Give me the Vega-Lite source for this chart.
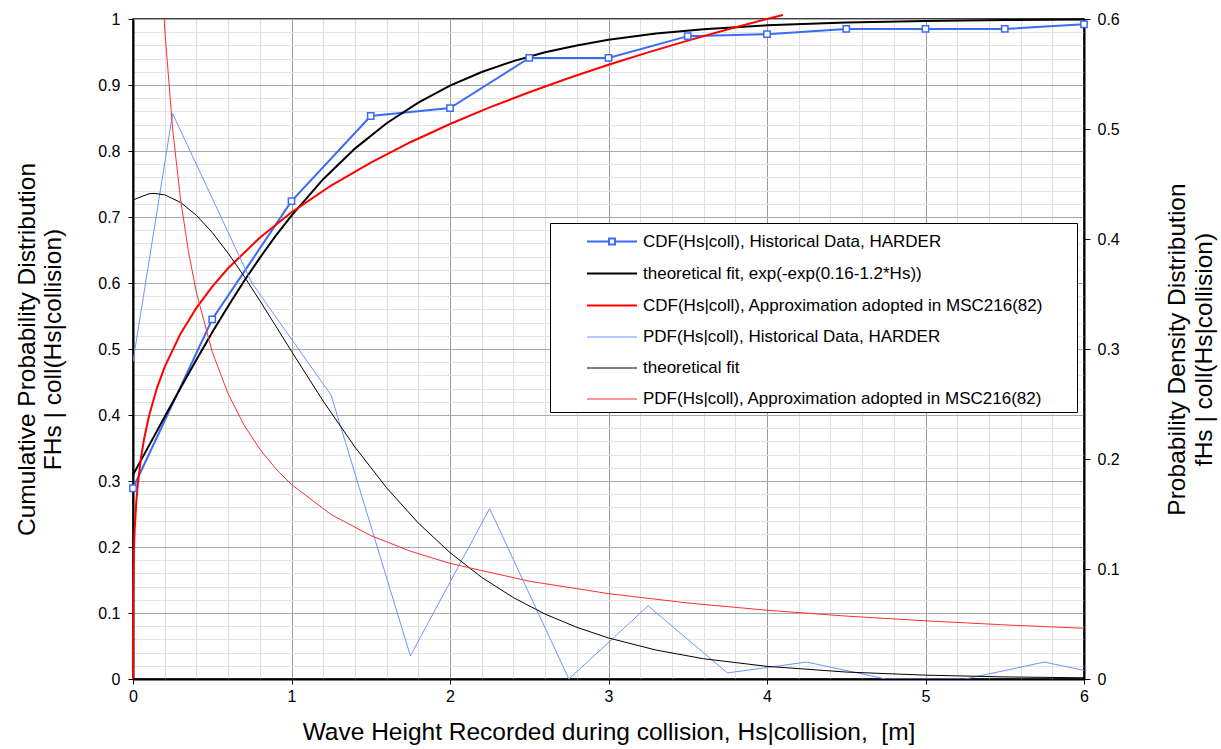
{
  "$schema": "https://vega.github.io/schema/vega-lite/v6.json",
  "width": 951,
  "height": 660,
  "autosize": {"type": "none"},
  "padding": {"left": 133, "top": 19, "right": 137, "bottom": 70},
  "background": "white",
  "config": {
    "font": "Liberation Sans",
    "view": {"stroke": "#000", "strokeWidth": 1.5},
    "axis": {
      "labelFont": "Liberation Sans",
      "titleFont": "Liberation Sans",
      "labelFontSize": 16,
      "titleFontSize": 24.5,
      "titleFontWeight": "normal",
      "labelColor": "#000",
      "titleColor": "#000",
      "domainColor": "#000",
      "tickColor": "#000",
      "labelFlush": false,
      "labelOverlap": false
    },
    "legend": {
      "labelFont": "Liberation Sans",
      "orient": "none",
      "padding": 5,
      "strokeColor": "#000",
      "fillColor": "#ffffff",
      "cornerRadius": 0,
      "labelFontSize": 17,
      "labelColor": "#000",
      "labelLimit": 800,
      "labelOffset": 17.5,
      "symbolSize": 625,
      "symbolOffset": 43.5,
      "rowPadding": 10
    }
  },
  "datasets": {
    "cdf": [
      {"s": "CDF(Hs|coll), Historical Data, HARDER", "x": 0, "v": 0.289},
      {"s": "CDF(Hs|coll), Historical Data, HARDER", "x": 0.5, "v": 0.545},
      {"s": "CDF(Hs|coll), Historical Data, HARDER", "x": 1, "v": 0.724},
      {"s": "CDF(Hs|coll), Historical Data, HARDER", "x": 1.5, "v": 0.853},
      {"s": "CDF(Hs|coll), Historical Data, HARDER", "x": 2, "v": 0.865},
      {"s": "CDF(Hs|coll), Historical Data, HARDER", "x": 2.5, "v": 0.941},
      {"s": "CDF(Hs|coll), Historical Data, HARDER", "x": 3, "v": 0.941},
      {"s": "CDF(Hs|coll), Historical Data, HARDER", "x": 3.5, "v": 0.974},
      {"s": "CDF(Hs|coll), Historical Data, HARDER", "x": 4, "v": 0.977},
      {"s": "CDF(Hs|coll), Historical Data, HARDER", "x": 4.5, "v": 0.985},
      {"s": "CDF(Hs|coll), Historical Data, HARDER", "x": 5, "v": 0.985},
      {"s": "CDF(Hs|coll), Historical Data, HARDER", "x": 5.5, "v": 0.985},
      {"s": "CDF(Hs|coll), Historical Data, HARDER", "x": 6, "v": 0.992},
      {"s": "theoretical fit, exp(-exp(0.16-1.2*Hs))", "x": 0, "v": 0.3093},
      {"s": "theoretical fit, exp(-exp(0.16-1.2*Hs))", "x": 0.1, "v": 0.3532},
      {"s": "theoretical fit, exp(-exp(0.16-1.2*Hs))", "x": 0.2, "v": 0.3973},
      {"s": "theoretical fit, exp(-exp(0.16-1.2*Hs))", "x": 0.3, "v": 0.441},
      {"s": "theoretical fit, exp(-exp(0.16-1.2*Hs))", "x": 0.4, "v": 0.4838},
      {"s": "theoretical fit, exp(-exp(0.16-1.2*Hs))", "x": 0.5, "v": 0.5252},
      {"s": "theoretical fit, exp(-exp(0.16-1.2*Hs))", "x": 0.6, "v": 0.5648},
      {"s": "theoretical fit, exp(-exp(0.16-1.2*Hs))", "x": 0.7, "v": 0.6026},
      {"s": "theoretical fit, exp(-exp(0.16-1.2*Hs))", "x": 0.8, "v": 0.6381},
      {"s": "theoretical fit, exp(-exp(0.16-1.2*Hs))", "x": 0.9, "v": 0.6713},
      {"s": "theoretical fit, exp(-exp(0.16-1.2*Hs))", "x": 1.0, "v": 0.7022},
      {"s": "theoretical fit, exp(-exp(0.16-1.2*Hs))", "x": 1.2, "v": 0.7573},
      {"s": "theoretical fit, exp(-exp(0.16-1.2*Hs))", "x": 1.4, "v": 0.8036},
      {"s": "theoretical fit, exp(-exp(0.16-1.2*Hs))", "x": 1.6, "v": 0.842},
      {"s": "theoretical fit, exp(-exp(0.16-1.2*Hs))", "x": 1.8, "v": 0.8734},
      {"s": "theoretical fit, exp(-exp(0.16-1.2*Hs))", "x": 2.0, "v": 0.899},
      {"s": "theoretical fit, exp(-exp(0.16-1.2*Hs))", "x": 2.2, "v": 0.9197},
      {"s": "theoretical fit, exp(-exp(0.16-1.2*Hs))", "x": 2.4, "v": 0.9362},
      {"s": "theoretical fit, exp(-exp(0.16-1.2*Hs))", "x": 2.6, "v": 0.9495},
      {"s": "theoretical fit, exp(-exp(0.16-1.2*Hs))", "x": 2.8, "v": 0.96},
      {"s": "theoretical fit, exp(-exp(0.16-1.2*Hs))", "x": 3.0, "v": 0.9684},
      {"s": "theoretical fit, exp(-exp(0.16-1.2*Hs))", "x": 3.3, "v": 0.9779},
      {"s": "theoretical fit, exp(-exp(0.16-1.2*Hs))", "x": 3.6, "v": 0.9845},
      {"s": "theoretical fit, exp(-exp(0.16-1.2*Hs))", "x": 4.0, "v": 0.9904},
      {"s": "theoretical fit, exp(-exp(0.16-1.2*Hs))", "x": 4.5, "v": 0.9947},
      {"s": "theoretical fit, exp(-exp(0.16-1.2*Hs))", "x": 5.0, "v": 0.9971},
      {"s": "theoretical fit, exp(-exp(0.16-1.2*Hs))", "x": 5.5, "v": 0.9984},
      {"s": "theoretical fit, exp(-exp(0.16-1.2*Hs))", "x": 6.0, "v": 0.9991},
      {"s": "CDF(Hs|coll), Approximation adopted in MSC216(82)", "x": 0, "v": 0},
      {"s": "CDF(Hs|coll), Approximation adopted in MSC216(82)", "x": 0.001, "v": 0.1257},
      {"s": "CDF(Hs|coll), Approximation adopted in MSC216(82)", "x": 0.005, "v": 0.188},
      {"s": "CDF(Hs|coll), Approximation adopted in MSC216(82)", "x": 0.01, "v": 0.2236},
      {"s": "CDF(Hs|coll), Approximation adopted in MSC216(82)", "x": 0.02, "v": 0.2659},
      {"s": "CDF(Hs|coll), Approximation adopted in MSC216(82)", "x": 0.03, "v": 0.2943},
      {"s": "CDF(Hs|coll), Approximation adopted in MSC216(82)", "x": 0.05, "v": 0.3344},
      {"s": "CDF(Hs|coll), Approximation adopted in MSC216(82)", "x": 0.07, "v": 0.3637},
      {"s": "CDF(Hs|coll), Approximation adopted in MSC216(82)", "x": 0.1, "v": 0.3976},
      {"s": "CDF(Hs|coll), Approximation adopted in MSC216(82)", "x": 0.15, "v": 0.4401},
      {"s": "CDF(Hs|coll), Approximation adopted in MSC216(82)", "x": 0.2, "v": 0.4729},
      {"s": "CDF(Hs|coll), Approximation adopted in MSC216(82)", "x": 0.3, "v": 0.5233},
      {"s": "CDF(Hs|coll), Approximation adopted in MSC216(82)", "x": 0.4, "v": 0.5623},
      {"s": "CDF(Hs|coll), Approximation adopted in MSC216(82)", "x": 0.5, "v": 0.5946},
      {"s": "CDF(Hs|coll), Approximation adopted in MSC216(82)", "x": 0.6, "v": 0.6223},
      {"s": "CDF(Hs|coll), Approximation adopted in MSC216(82)", "x": 0.8, "v": 0.6687},
      {"s": "CDF(Hs|coll), Approximation adopted in MSC216(82)", "x": 1.0, "v": 0.7071},
      {"s": "CDF(Hs|coll), Approximation adopted in MSC216(82)", "x": 1.25, "v": 0.7477},
      {"s": "CDF(Hs|coll), Approximation adopted in MSC216(82)", "x": 1.5, "v": 0.7825},
      {"s": "CDF(Hs|coll), Approximation adopted in MSC216(82)", "x": 1.75, "v": 0.8133},
      {"s": "CDF(Hs|coll), Approximation adopted in MSC216(82)", "x": 2.0, "v": 0.8409},
      {"s": "CDF(Hs|coll), Approximation adopted in MSC216(82)", "x": 2.25, "v": 0.866},
      {"s": "CDF(Hs|coll), Approximation adopted in MSC216(82)", "x": 2.5, "v": 0.8891},
      {"s": "CDF(Hs|coll), Approximation adopted in MSC216(82)", "x": 2.75, "v": 0.9106},
      {"s": "CDF(Hs|coll), Approximation adopted in MSC216(82)", "x": 3.0, "v": 0.9306},
      {"s": "CDF(Hs|coll), Approximation adopted in MSC216(82)", "x": 3.25, "v": 0.9494},
      {"s": "CDF(Hs|coll), Approximation adopted in MSC216(82)", "x": 3.5, "v": 0.9672},
      {"s": "CDF(Hs|coll), Approximation adopted in MSC216(82)", "x": 3.75, "v": 0.984},
      {"s": "CDF(Hs|coll), Approximation adopted in MSC216(82)", "x": 4.0, "v": 1.0},
      {"s": "CDF(Hs|coll), Approximation adopted in MSC216(82)", "x": 4.1, "v": 1.0062}
    ],
    "pdf": [
      {"s": "PDF(Hs|coll), Historical Data, HARDER", "x": 0, "v": 0.2885},
      {"s": "PDF(Hs|coll), Historical Data, HARDER", "x": 0.25, "v": 0.514},
      {"s": "PDF(Hs|coll), Historical Data, HARDER", "x": 0.75, "v": 0.36},
      {"s": "PDF(Hs|coll), Historical Data, HARDER", "x": 1.25, "v": 0.258},
      {"s": "PDF(Hs|coll), Historical Data, HARDER", "x": 1.75, "v": 0.021},
      {"s": "PDF(Hs|coll), Historical Data, HARDER", "x": 2.25, "v": 0.155},
      {"s": "PDF(Hs|coll), Historical Data, HARDER", "x": 2.75, "v": 0},
      {"s": "PDF(Hs|coll), Historical Data, HARDER", "x": 3.25, "v": 0.0665},
      {"s": "PDF(Hs|coll), Historical Data, HARDER", "x": 3.75, "v": 0.0055},
      {"s": "PDF(Hs|coll), Historical Data, HARDER", "x": 4.25, "v": 0.0154},
      {"s": "PDF(Hs|coll), Historical Data, HARDER", "x": 4.75, "v": 0},
      {"s": "PDF(Hs|coll), Historical Data, HARDER", "x": 5.25, "v": 0},
      {"s": "PDF(Hs|coll), Historical Data, HARDER", "x": 5.75, "v": 0.0154},
      {"s": "PDF(Hs|coll), Historical Data, HARDER", "x": 6, "v": 0.0078},
      {"s": "theoretical fit", "x": 0, "v": 0.4355},
      {"s": "theoretical fit", "x": 0.1, "v": 0.4411},
      {"s": "theoretical fit", "x": 0.133, "v": 0.4415},
      {"s": "theoretical fit", "x": 0.2, "v": 0.4401},
      {"s": "theoretical fit", "x": 0.3, "v": 0.4333},
      {"s": "theoretical fit", "x": 0.4, "v": 0.4215},
      {"s": "theoretical fit", "x": 0.5, "v": 0.4059},
      {"s": "theoretical fit", "x": 0.6, "v": 0.3871},
      {"s": "theoretical fit", "x": 0.7, "v": 0.3663},
      {"s": "theoretical fit", "x": 0.8, "v": 0.344},
      {"s": "theoretical fit", "x": 0.9, "v": 0.321},
      {"s": "theoretical fit", "x": 1.0, "v": 0.2979},
      {"s": "theoretical fit", "x": 1.2, "v": 0.2526},
      {"s": "theoretical fit", "x": 1.4, "v": 0.2109},
      {"s": "theoretical fit", "x": 1.6, "v": 0.1738},
      {"s": "theoretical fit", "x": 1.8, "v": 0.1418},
      {"s": "theoretical fit", "x": 2.0, "v": 0.1149},
      {"s": "theoretical fit", "x": 2.2, "v": 0.0924},
      {"s": "theoretical fit", "x": 2.4, "v": 0.074},
      {"s": "theoretical fit", "x": 2.6, "v": 0.059},
      {"s": "theoretical fit", "x": 2.8, "v": 0.047},
      {"s": "theoretical fit", "x": 3.0, "v": 0.0373},
      {"s": "theoretical fit", "x": 3.3, "v": 0.0263},
      {"s": "theoretical fit", "x": 3.6, "v": 0.0184},
      {"s": "theoretical fit", "x": 4.0, "v": 0.0115},
      {"s": "theoretical fit", "x": 4.5, "v": 0.0063},
      {"s": "theoretical fit", "x": 5.0, "v": 0.0035},
      {"s": "theoretical fit", "x": 5.5, "v": 0.0019},
      {"s": "theoretical fit", "x": 6.0, "v": 0.0011},
      {"s": "PDF(Hs|coll), Approximation adopted in MSC216(82)", "x": 0.05, "v": 1.672},
      {"s": "PDF(Hs|coll), Approximation adopted in MSC216(82)", "x": 0.1, "v": 0.994},
      {"s": "PDF(Hs|coll), Approximation adopted in MSC216(82)", "x": 0.12, "v": 0.867},
      {"s": "PDF(Hs|coll), Approximation adopted in MSC216(82)", "x": 0.15, "v": 0.733},
      {"s": "PDF(Hs|coll), Approximation adopted in MSC216(82)", "x": 0.2, "v": 0.591},
      {"s": "PDF(Hs|coll), Approximation adopted in MSC216(82)", "x": 0.25, "v": 0.5},
      {"s": "PDF(Hs|coll), Approximation adopted in MSC216(82)", "x": 0.3, "v": 0.4361},
      {"s": "PDF(Hs|coll), Approximation adopted in MSC216(82)", "x": 0.35, "v": 0.3885},
      {"s": "PDF(Hs|coll), Approximation adopted in MSC216(82)", "x": 0.4, "v": 0.3514},
      {"s": "PDF(Hs|coll), Approximation adopted in MSC216(82)", "x": 0.5, "v": 0.2973},
      {"s": "PDF(Hs|coll), Approximation adopted in MSC216(82)", "x": 0.6, "v": 0.2593},
      {"s": "PDF(Hs|coll), Approximation adopted in MSC216(82)", "x": 0.7, "v": 0.231},
      {"s": "PDF(Hs|coll), Approximation adopted in MSC216(82)", "x": 0.8, "v": 0.209},
      {"s": "PDF(Hs|coll), Approximation adopted in MSC216(82)", "x": 0.9, "v": 0.1913},
      {"s": "PDF(Hs|coll), Approximation adopted in MSC216(82)", "x": 1.0, "v": 0.1768},
      {"s": "PDF(Hs|coll), Approximation adopted in MSC216(82)", "x": 1.25, "v": 0.1495},
      {"s": "PDF(Hs|coll), Approximation adopted in MSC216(82)", "x": 1.5, "v": 0.1304},
      {"s": "PDF(Hs|coll), Approximation adopted in MSC216(82)", "x": 1.75, "v": 0.1162},
      {"s": "PDF(Hs|coll), Approximation adopted in MSC216(82)", "x": 2.0, "v": 0.1051},
      {"s": "PDF(Hs|coll), Approximation adopted in MSC216(82)", "x": 2.5, "v": 0.0889},
      {"s": "PDF(Hs|coll), Approximation adopted in MSC216(82)", "x": 3.0, "v": 0.0776},
      {"s": "PDF(Hs|coll), Approximation adopted in MSC216(82)", "x": 3.5, "v": 0.0691},
      {"s": "PDF(Hs|coll), Approximation adopted in MSC216(82)", "x": 4.0, "v": 0.0625},
      {"s": "PDF(Hs|coll), Approximation adopted in MSC216(82)", "x": 4.5, "v": 0.0572},
      {"s": "PDF(Hs|coll), Approximation adopted in MSC216(82)", "x": 5.0, "v": 0.0529},
      {"s": "PDF(Hs|coll), Approximation adopted in MSC216(82)", "x": 5.5, "v": 0.0492},
      {"s": "PDF(Hs|coll), Approximation adopted in MSC216(82)", "x": 6.0, "v": 0.0461}
    ]
  },
  "resolve": {"scale": {"x": "independent", "y": "independent"}},
  "layer": [
    {
      "data": {"values": [{"g": 0}]},
      "mark": {"type": "point", "opacity": 0},
      "encoding": {
        "x": {
          "field": "g", "type": "quantitative",
          "scale": {"domain": [0, 6], "nice": false, "zero": false},
          "axis": {
            "orient": "bottom",
            "values": [0.2, 0.4, 0.6, 0.8, 1.2, 1.4, 1.6, 1.8, 2.2, 2.4, 2.6, 2.8, 3.2, 3.4, 3.6, 3.8, 4.2, 4.4, 4.6, 4.8, 5.2, 5.4, 5.6, 5.8],
            "grid": true, "gridColor": "#dedede", "gridWidth": 1,
            "labels": false, "ticks": false, "domain": false, "title": null
          }
        },
        "y": {
          "field": "g", "type": "quantitative",
          "scale": {"domain": [0, 1], "nice": false, "zero": false},
          "axis": {
            "orient": "left",
            "values": [0.02, 0.04, 0.06, 0.08, 0.12, 0.14, 0.16, 0.18, 0.22, 0.24, 0.26, 0.28, 0.32, 0.34, 0.36, 0.38, 0.42, 0.44, 0.46, 0.48, 0.52, 0.54, 0.56, 0.58, 0.62, 0.64, 0.66, 0.68, 0.72, 0.74, 0.76, 0.78, 0.82, 0.84, 0.86, 0.88, 0.92, 0.94, 0.96, 0.98],
            "grid": true, "gridColor": "#e4e4e4", "gridWidth": 1,
            "labels": false, "ticks": false, "domain": false, "title": null
          }
        }
      }
    },
    {
      "data": {"name": "cdf"},
      "layer": [
        {
          "mark": {"type": "line", "clip": false},
          "encoding": {
            "x": {
              "field": "x", "type": "quantitative",
              "scale": {"domain": [0, 6], "nice": false, "zero": false},
              "axis": {
                "orient": "bottom",
                "values": [0, 1, 2, 3, 4, 5, 6],
                "format": "~g",
                "grid": true, "gridColor": "#9a9a9a", "gridWidth": 1,
                "domainWidth": 2, "tickSize": 5, "tickWidth": 1,
                "labelPadding": 4,
                "title": "Wave Height Recorded during collision, Hs|collision,\u00a0 [m]",
                "titlePadding": 16
              }
            },
            "y": {
              "field": "v", "type": "quantitative",
              "scale": {"domain": [0, 1], "nice": false, "zero": false},
              "axis": {
                "orient": "left",
                "values": [0, 0.1, 0.2, 0.3, 0.4, 0.5, 0.6, 0.7, 0.8, 0.9, 1],
                "format": "~g",
                "grid": true, "gridColor": "#a8a8a8", "gridWidth": 1,
                "domainWidth": 2, "tickSize": 5, "tickWidth": 1,
                "labelPadding": 8,
                "title": ["Cumulative Probability Distribution", "FHs | coll(Hs|collision)"],
                "titlePadding": 32
              }
            },
            "color": {
              "field": "s", "type": "nominal",
              "scale": {
                "domain": [
                  "CDF(Hs|coll), Historical Data, HARDER",
                  "theoretical fit, exp(-exp(0.16-1.2*Hs))",
                  "CDF(Hs|coll), Approximation adopted in MSC216(82)",
                  "PDF(Hs|coll), Historical Data, HARDER",
                  "theoretical fit",
                  "PDF(Hs|coll), Approximation adopted in MSC216(82)"
                ],
                "range": ["#3A6BF5", "#000000", "#FF0000", "#6D93FF", "#000000", "#FF3030"]
              },
              "legend": {
                "orient": "none",
                "legendX": 417,
                "legendY": 204,
                "title": null,
                "labelExpr": "datum.label + '\u00a0\u00a0\u00a0\u00a0\u00a0\u00a0\u200b'"
              }
            },
            "strokeWidth": {
              "field": "s", "type": "nominal",
              "scale": {
                "type": "ordinal",
                "domain": [
                  "CDF(Hs|coll), Historical Data, HARDER",
                  "theoretical fit, exp(-exp(0.16-1.2*Hs))",
                  "CDF(Hs|coll), Approximation adopted in MSC216(82)",
                  "PDF(Hs|coll), Historical Data, HARDER",
                  "theoretical fit",
                  "PDF(Hs|coll), Approximation adopted in MSC216(82)"
                ],
                "range": [2, 2, 2, 1, 1, 1]
              },
              "legend": {
                "orient": "none",
                "legendX": 417,
                "legendY": 204,
                "title": null,
                "labelExpr": "datum.label + '\u00a0\u00a0\u00a0\u00a0\u00a0\u00a0\u200b'"
              }
            }
          }
        },
        {
          "transform": [{"filter": "datum.s === 'CDF(Hs|coll), Historical Data, HARDER'"}],
          "mark": {"type": "point", "shape": "square", "filled": false, "fill": "#ffffff", "opacity": 1, "size": 40, "strokeWidth": 1.5, "clip": false},
          "encoding": {
            "x": {"field": "x", "type": "quantitative"},
            "y": {"field": "v", "type": "quantitative"},
            "color": {"field": "s", "type": "nominal"}
          }
        }
      ]
    },
    {
      "data": {"name": "pdf"},
      "mark": {"type": "line", "clip": true},
      "encoding": {
        "x": {
          "field": "x", "type": "quantitative",
          "scale": {"domain": [0, 6], "nice": false, "zero": false},
          "axis": null
        },
        "y": {
          "field": "v", "type": "quantitative",
          "scale": {"domain": [0, 0.6], "nice": false, "zero": false},
          "axis": {
            "orient": "right",
            "values": [0, 0.1, 0.2, 0.3, 0.4, 0.5, 0.6],
            "format": "~g",
            "grid": false,
            "domainWidth": 2, "tickSize": 6, "tickWidth": 1,
            "labelPadding": 7,
            "title": ["Probability Density Distribution", "fHs | coll(Hs|collision)"],
            "titleAngle": 270,
            "titleBaseline": "top",
            "titlePadding": 20
          }
        },
        "color": {"field": "s", "type": "nominal"},
        "strokeWidth": {
          "field": "s", "type": "nominal",
          "scale": {
            "type": "ordinal",
            "domain": [
              "CDF(Hs|coll), Historical Data, HARDER",
              "theoretical fit, exp(-exp(0.16-1.2*Hs))",
              "CDF(Hs|coll), Approximation adopted in MSC216(82)",
              "PDF(Hs|coll), Historical Data, HARDER",
              "theoretical fit",
              "PDF(Hs|coll), Approximation adopted in MSC216(82)"
            ],
            "range": [2, 2, 2, 1, 1, 1]
          },
          "legend": {
            "orient": "none",
            "legendX": 417,
            "legendY": 204,
            "title": null,
            "labelExpr": "datum.label + '\u00a0\u00a0\u00a0\u00a0\u00a0\u00a0\u200b'"
          }
        }
      }
    },
    {
      "data": {"name": "pdf"},
      "transform": [{"filter": "false"}],
      "mark": {"type": "point", "filled": false},
      "encoding": {
        "color": {"field": "s", "type": "nominal"},
        "shape": {
          "field": "s", "type": "nominal",
          "scale": {
            "domain": [
              "CDF(Hs|coll), Historical Data, HARDER",
              "theoretical fit, exp(-exp(0.16-1.2*Hs))",
              "CDF(Hs|coll), Approximation adopted in MSC216(82)",
              "PDF(Hs|coll), Historical Data, HARDER",
              "theoretical fit",
              "PDF(Hs|coll), Approximation adopted in MSC216(82)"
            ],
            "range": [
              "M-2,0L-0.24,0M0.24,0L2,0M-0.24,-0.24L0.24,-0.24L0.24,0.24L-0.24,0.24Z",
              "M-2,0L2,0",
              "M-2,0L2,0",
              "M-2,0L2,0",
              "M-2,0L2,0",
              "M-2,0L2,0"
            ]
          },
          "legend": {
            "orient": "none",
            "legendX": 417,
            "legendY": 204,
            "title": null,
            "labelExpr": "datum.label + '\u00a0\u00a0\u00a0\u00a0\u00a0\u00a0\u200b'"
          }
        }
      }
    }
  ]
}
